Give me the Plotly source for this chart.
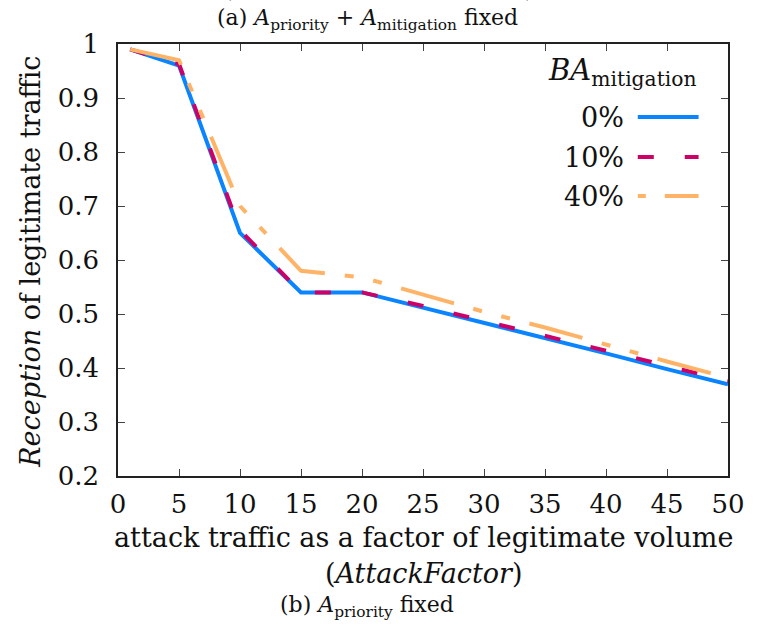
import plotly.graph_objects as go

attack_factor = [1, 5, 10, 15, 20, 25, 30, 35, 40, 45, 50]
reception_0 = [0.99, 0.96, 0.65, 0.54, 0.54, 0.512, 0.483, 0.455, 0.427, 0.398, 0.37]
reception_10 = [0.99, 0.963, 0.655, 0.54, 0.54, 0.515, 0.487, 0.46, 0.432, 0.404, 0.376]
reception_40 = [0.99, 0.97, 0.70, 0.58, 0.568, 0.536, 0.504, 0.475, 0.443, 0.412, 0.382]
series_names = ["0%", "10%", "40%"]
x_ticks = [0, 5, 10, 15, 20, 25, 30, 35, 40, 45, 50]
y_ticks = [0.2, 0.3, 0.4, 0.5, 0.6, 0.7, 0.8, 0.9, 1.0]
y_tick_labels = ["0.2", "0.3", "0.4", "0.5", "0.6", "0.7", "0.8", "0.9", "1"]

colors = ["#0a84ff", "#cc0066", "#ffb366"]
dashes = ["solid", "16px,31px", "55px,20px,9px,20px,9px,20px"]
legend_dashes = ["solid", "16px,31px", "8px,19px,40px,10px"]
series = [reception_0, reception_10, reception_40]

FONT = "DejaVu Serif"

fig = go.Figure()
for name, ys, c, d in zip(series_names, series, colors, dashes):
    fig.add_trace(go.Scatter(x=attack_factor, y=ys, mode="lines", name=name,
                             line=dict(color=c, width=4, dash=d), showlegend=False))

axis_common = dict(showline=True, linecolor="#222", linewidth=1.5, mirror="allticks",
                   ticks="inside", ticklen=7, tickwidth=1.2, tickcolor="#444",
                   showgrid=False, zeroline=False,
                   tickfont=dict(family=FONT, size=26, color="#111"))
fig.update_xaxes(range=[0, 50], tickvals=x_ticks, ticklabelstandoff=4, **axis_common)
fig.update_yaxes(range=[0.2, 1.0], tickvals=y_ticks, ticktext=y_tick_labels,
                 ticklabelstandoff=12, **axis_common)

W, H = 757, 628
L, R, T, B = 118, 17, 44, 152
pw, ph = W - L - R, H - T - B

def px_x(x):
    return (x - L) / pw

def px_y(y):
    return 1 - (y - T) / ph

ann = []
def text(s, x, y, size, xanchor="center", yanchor="middle", angle=0):
    ann.append(dict(text=s, x=px_x(x), y=px_y(y), xref="paper", yref="paper",
                    showarrow=False, xanchor=xanchor, yanchor=yanchor, textangle=angle,
                    font=dict(family=FONT, size=size, color="#111")))

text("(", 230, -11, 24)
text(")", 538, -11, 24)
text("(a) <i>A</i><sub>priority</sub> + <i>A</i><sub>mitigation</sub> fixed", 372, 20, 22)
text("(b) <i>A</i><sub>priority</sub> fixed", 372, 606, 22)
text("attack traffic as a factor of legitimate volume", 430, 537, 27)
text("(<i>AttackFactor</i>)", 430, 573, 27)
text("<i>Reception</i> of legitimate traffic", 28, 262, 27, angle=-90)

# legend
text("<i>BA</i><sub>mitigation</sub>", 710, 72, 29, xanchor="right")
legend_y = [117, 157, 196]
shapes = []
for name, c, d, ly in zip(series_names, colors, legend_dashes, legend_y):
    text(name, 636, ly, 27, xanchor="right")
    shapes.append(dict(type="line", xref="paper", yref="paper",
                       x0=px_x(648), x1=px_x(710), y0=px_y(ly), y1=px_y(ly),
                       line=dict(color=c, width=4, dash=d)))

fig.update_layout(width=W, height=H, margin=dict(l=L, r=R, t=T, b=B),
                  plot_bgcolor="white", paper_bgcolor="white",
                  annotations=ann, shapes=shapes, showlegend=False)

fig.write_html("out.html", config={"displayModeBar": False},
               post_script="document.body.style.margin='0';")
